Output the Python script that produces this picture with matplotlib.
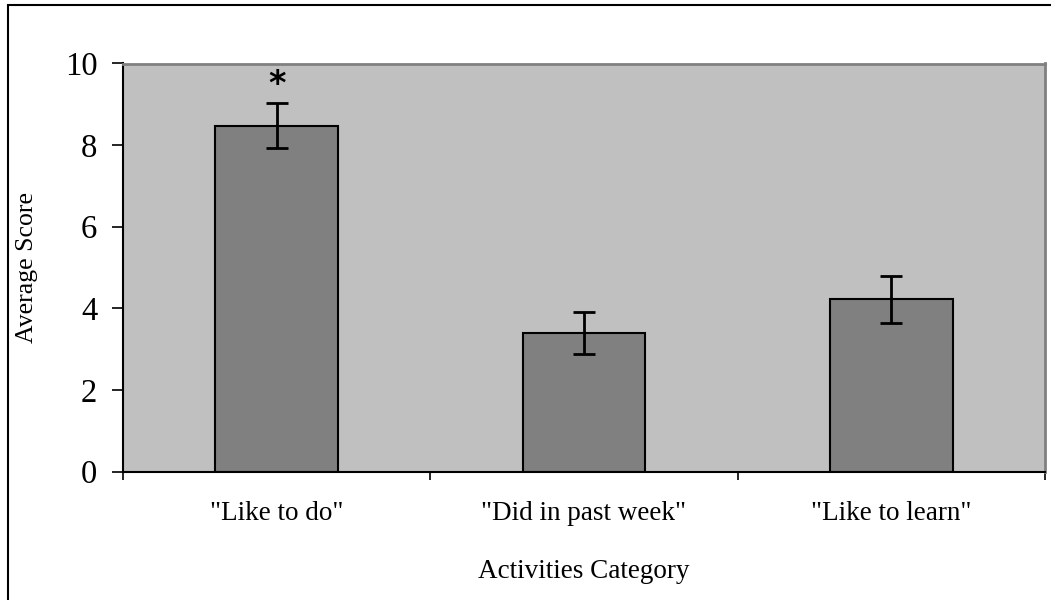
import matplotlib
matplotlib.use("Agg")
import matplotlib.pyplot as plt
from matplotlib.patches import Rectangle
import numpy as np

categories = ['"Like to do"', '"Did in past week"', '"Like to learn"']
means = [8.48, 3.40, 4.22]
errors = [0.54, 0.51, 0.57]
y_ticks = [0, 2, 4, 6, 8, 10]

plt.rcParams['font.family'] = ['Liberation Serif', 'DejaVu Serif']

fig = plt.figure(figsize=(10.51, 6.0), dpi=100)
ax = fig.add_axes([123/1051, 1 - 471.5/600, (1045-123)/1051, (471.5-63.5)/600])
ax.set_facecolor('#C0C0C0')

x = np.arange(len(categories))
ax.bar(x, means, width=0.40, color='#808080', edgecolor='black', linewidth=1.5, zorder=2)
ax.errorbar(x, means, yerr=errors, fmt='none', ecolor='black', elinewidth=2,
            capsize=8, capthick=2, zorder=3)

ax.set_xlim(-0.5, len(categories) - 0.5)
ax.set_ylim(0, 10)
ax.set_yticks(y_ticks)
ax.set_yticklabels([str(v) for v in y_ticks], fontsize=23.5)
ax.set_xticks(x)
ax.set_xticklabels(categories, fontsize=19.5)
ax.set_xticks(np.arange(-0.5, len(categories), 1.0), minor=True)
ax.tick_params(axis='x', which='major', length=0, pad=21)
ax.tick_params(axis='x', which='minor', length=6, width=1.2, direction='out')
ax.tick_params(axis='y', length=8, width=1.2, direction='out', pad=10.5)

for s in ['left', 'bottom']:
    ax.spines[s].set_color('black')
    ax.spines[s].set_linewidth(1.5)
for s in ['top', 'right']:
    ax.spines[s].set_color('#808080')
    ax.spines[s].set_linewidth(2)

ax.set_xlabel('Activities Category', fontsize=19.5)
ax.xaxis.set_label_coords(0.5, -0.214)
ax.set_ylabel('Average Score', fontsize=18.5)
ax.yaxis.set_label_coords(-0.092, 0.5)

ax.text(x[0], 9.48, '*', ha='center', va='center',
        fontsize=24, fontweight='bold', family='DejaVu Sans')

fig.patches.append(Rectangle((8/1051, 0 - 0.05), 1.2, 1 - 5/600 + 0.05,
                             transform=fig.transFigure, fill=False,
                             edgecolor='black', linewidth=1.5, clip_on=False))

fig.savefig('out.png', dpi=100)
